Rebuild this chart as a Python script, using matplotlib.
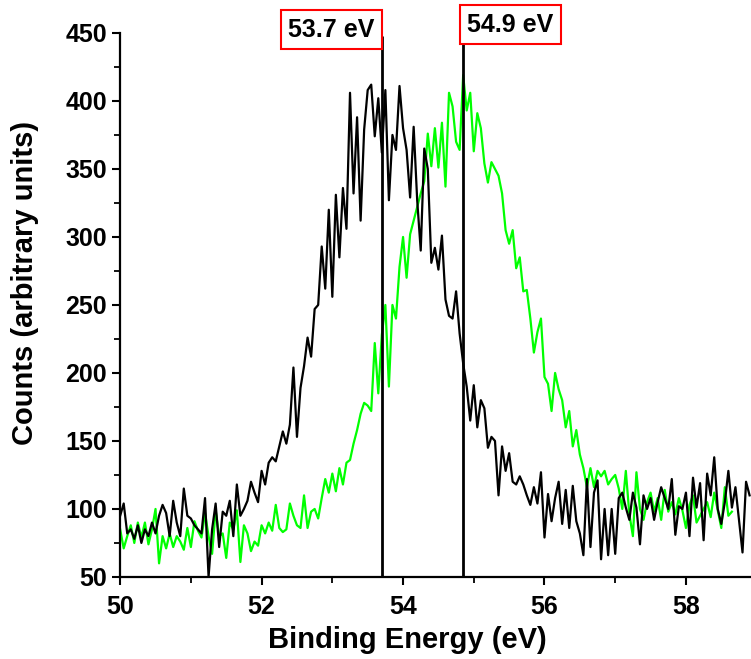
import numpy as np
import matplotlib
matplotlib.use("Agg")
import matplotlib.pyplot as plt
from matplotlib.ticker import MultipleLocator

plt.rcParams['font.family'] = ['Liberation Sans', 'DejaVu Sans']
plt.rcParams['font.weight'] = 'bold'

# spectra, 0.05 eV step starting at 50 eV
black_counts = [
    95, 104, 82, 85, 78, 88, 75, 85, 80, 90,
    82, 95, 103, 97, 80, 106, 90, 80, 115, 95,
    93, 88, 85, 82, 108, 50, 85, 104, 72, 98,
    95, 106, 80, 118, 95, 100, 106, 120, 112, 105,
    128, 118, 134, 138, 135, 146, 157, 148, 162, 204,
    153, 189, 205, 226, 212, 247, 250, 293, 262, 320,
    256, 331, 285, 336, 306, 406, 332, 388, 312, 379,
    408, 412, 374, 402, 362, 408, 327, 375, 364, 411,
    380, 364, 329, 381, 327, 290, 365, 350, 281, 292,
    276, 301, 254, 242, 240, 260, 229, 207, 190, 165,
    191, 160, 180, 174, 145, 153, 150, 110, 146, 128,
    141, 120, 118, 124, 118, 110, 103, 116, 104, 127,
    79, 111, 91, 108, 120, 89, 114, 86, 117, 91,
    82, 66, 122, 72, 112, 121, 63, 100, 66, 100,
    67, 108, 112, 101, 92, 112, 101, 74, 110, 100,
    108, 92, 105, 116, 108, 100, 122, 81, 102, 100,
    112, 80, 123, 101, 119, 77, 126, 110, 138, 100,
    89, 105, 128, 101, 116, 92, 68, 120, 110,
]
green_counts = [
    85, 71, 80, 88, 75, 90, 79, 90, 74, 85,
    100, 60, 80, 71, 82, 72, 80, 76, 70, 86,
    72, 91, 84, 79, 97, 80, 67, 99, 80, 82,
    64, 90, 85, 99, 61, 88, 82, 69, 76, 73,
    88, 82, 90, 84, 103, 86, 83, 85, 104, 95,
    88, 86, 110, 86, 98, 100, 93, 108, 122, 112,
    126, 113, 130, 118, 134, 136, 148, 158, 170, 178,
    176, 172, 222, 185, 228, 250, 190, 250, 240, 278,
    300, 270, 302, 312, 322, 332, 341, 376, 352, 380,
    351, 384, 337, 406, 396, 370, 364, 419, 393, 406,
    363, 391, 380, 354, 340, 355, 350, 345, 332, 305,
    295, 305, 277, 285, 260, 261, 240, 215, 230, 240,
    197, 192, 172, 200, 188, 180, 160, 172, 146, 158,
    140, 130, 116, 130, 116, 128, 124, 128, 118, 122,
    125, 115, 100, 128, 96, 80, 127, 100, 92, 105,
    112, 98, 108, 92, 114, 98, 105, 96, 108, 99,
    86, 103, 110, 90, 95, 100, 105, 94, 112, 99,
    86, 116, 95, 98,
]
start_ev = 50.0
step_ev = 0.05
black_ev = start_ev + step_ev * np.arange(len(black_counts))
green_ev = start_ev + step_ev * np.arange(len(green_counts))

peak_positions = [53.7, 54.85]
peak_labels = ['53.7 eV', '54.9 eV']

fig = plt.figure(figsize=(7.51, 6.59), dpi=100)
ax = fig.add_axes([0.16, 0.1245, 0.84, 0.8255])

ax.plot(black_ev, black_counts, color='black', lw=1.6, zorder=3)
ax.plot(green_ev, green_counts, color='#00ff00', lw=1.6, zorder=2)

# peak markers with boxed labels
ax.vlines(peak_positions, 50, 448, color='black', lw=2, zorder=4)
ax.text(52.99, 452.5, peak_labels[0], ha='center', va='center', fontsize=18,
        fontweight='bold', zorder=6, clip_on=False,
        bbox=dict(boxstyle='square,pad=0.3', fc='white', ec='red', lw=1.5))
ax.text(55.52, 456, peak_labels[1], ha='center', va='center', fontsize=18,
        fontweight='bold', zorder=6, clip_on=False,
        bbox=dict(boxstyle='square,pad=0.3', fc='white', ec='red', lw=1.5))

ax.set_xlim(50, 58.92)
ax.set_ylim(50, 450)
ax.xaxis.set_major_locator(MultipleLocator(2))
ax.xaxis.set_minor_locator(MultipleLocator(1))
ax.yaxis.set_major_locator(MultipleLocator(50))
ax.yaxis.set_minor_locator(MultipleLocator(25))

for side in ['top', 'right']:
    ax.spines[side].set_visible(False)
for side in ['left', 'bottom']:
    ax.spines[side].set_linewidth(1.6)
ax.tick_params(which='major', direction='out', length=6, width=1.5, labelsize=18)
ax.tick_params(axis='x', which='major', pad=7)
ax.tick_params(which='minor', direction='out', length=4, width=1.3)

ax.set_xlabel('Binding Energy (eV)', fontsize=21, fontweight='bold')
ax.set_ylabel('Counts (arbitrary units)', fontsize=21, fontweight='bold')
ax.xaxis.set_label_coords(0.455, -0.09)
ax.yaxis.set_label_coords(-0.128, 0.54)

plt.savefig("out.png", dpi=100)
